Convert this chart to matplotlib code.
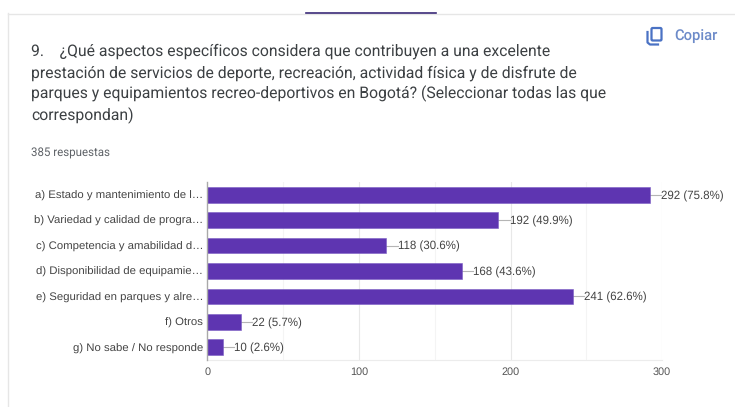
import matplotlib
matplotlib.use('Agg')
import matplotlib.pyplot as plt
from matplotlib.patches import FancyBboxPatch
from matplotlib.lines import Line2D

categories = ['a) Estado y mantenimiento de l…', 'b) Variedad y calidad de progra…',
              'c) Competencia y amabilidad d…', 'd) Disponibilidad de equipamie…',
              'e) Seguridad en parques y alre…', 'f) Otros', 'g) No sabe / No responde']
counts = [292, 192, 118, 168, 241, 22, 10]
percents = [75.8, 49.9, 30.6, 43.6, 62.6, 5.7, 2.6]
major_ticks = [0, 100, 200, 300]
minor_ticks = [50, 150, 250]

question = ['9.    ¿Qué aspectos específicos considera que contribuyen a una excelente',
            'prestación de servicios de deporte, recreación, actividad física y de disfrute de',
            'parques y equipamientos recreo-deportivos en Bogotá? (Seleccionar todas las que',
            'correspondan)']

W, H = 735, 407
plt.rcParams['font.family'] = ['Liberation Sans', 'DejaVu Sans']
plt.rcParams['text.hinting'] = 'no_hinting'

fig = plt.figure(figsize=(W / 100, H / 100), dpi=100, facecolor='white')

# full figure overlay in pixel coordinates, y going down
bg = fig.add_axes([0, 0, 1, 1])
bg.set_xlim(0, W)
bg.set_ylim(H, 0)
bg.axis('off')

# card border and the dark tab on top
bg.add_line(Line2D([8, 8], [13, H], color='#e6e6e6', lw=1))
bg.add_line(Line2D([8, W], [13.5, 13.5], color='#e6e6e6', lw=1))
bg.add_line(Line2D([306, 436], [12.5, 12.5], color='#3b2a78', lw=1.2))

for i, line in enumerate(question):
    bg.text(31, 51.5 + i * 21.3, line, family='Roboto', fontsize=11.3, color='#3c4043', va='center')
bg.text(31, 153.5, '385 respuestas', family='Roboto', fontsize=8.3, color='#5f6368', va='center')

# copy icon
blue = '#4a72c4'
bg.add_patch(FancyBboxPatch((651.5, 28), 10, 12.5, boxstyle='round,pad=0,rounding_size=1.2',
                            fc='none', ec=blue, lw=1.6))
bg.add_line(Line2D([647.5, 647.5, 650, 658], [32, 42.5, 44.5, 44.5], color=blue, lw=1.6))
bg.text(674, 35.5, 'Copiar', family='Roboto', fontsize=10.6, fontweight='medium', color='#6d8bc9', va='center')

# chart axes, placed by pixel position
x0, x1 = 207.5, 662
y0, y1 = 182, 360
ax = fig.add_axes([x0 / W, 1 - y1 / H, (x1 - x0) / W, (y1 - y0) / H])
ax.patch.set_alpha(0)
ax.set_xlim(0, 300)
positions = list(range(len(categories)))
ax.set_ylim(len(categories) - 0.5, -0.5)
ax.barh(positions, counts, height=0.62, color='#5e35b1', edgecolor='#7a5cc4', linewidth=0.4, zorder=3)

for v in major_ticks[1:]:
    ax.axvline(v, color='#e8e8e8', lw=0.8, zorder=1)
for v in minor_ticks:
    ax.axvline(v, color='#f4f4f4', lw=0.8, zorder=1)

for s in ['top', 'right']:
    ax.spines[s].set_visible(False)
ax.spines['bottom'].set_color('#ececec')
ax.spines['left'].set_color('#a9a9a9')
ax.spines['left'].set_linewidth(1.0)
ax.spines['left'].set_zorder(4)

ax.set_xticks(major_ticks)
ax.tick_params(axis='x', length=0, pad=5, labelsize=7.8, labelcolor='#555555')
ax.set_yticks(positions)
ax.set_yticklabels(categories, va='center_baseline')
ax.tick_params(axis='y', length=0, pad=3, labelsize=8.2, labelcolor='#444444')

# leader line and value label next to each bar
for p, c, pct in zip(positions, counts, percents):
    ax.plot([c, c + 7.5], [p, p], color='#b5b5b5', lw=0.8, zorder=2, clip_on=False)
    ax.text(c + 7.5, p, f'{c} ({pct}%)', fontsize=8.3, color='#444444', va='center_baseline', ha='left')

fig.savefig('out.png', dpi=100)
